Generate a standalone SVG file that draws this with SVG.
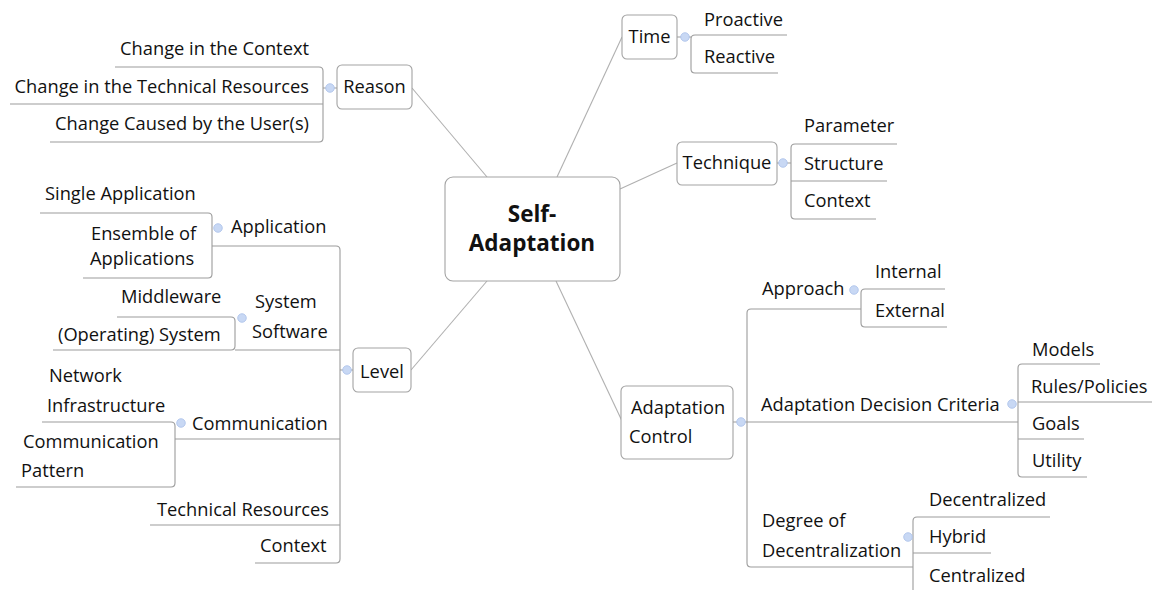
<svg xmlns="http://www.w3.org/2000/svg" width="1152" height="590" viewBox="0 0 1152 590">
<style>
.ln{fill:none;stroke:#9c9c9c;stroke-width:1.1}
.cn{fill:none;stroke:#b0b0b0;stroke-width:1.1}
.box{fill:#fff;stroke:#a3a3a3;stroke-width:1.1}
.t{font-family:"Open Sans","Noto Sans",sans-serif;font-size:18.3px;fill:#111}
.m{text-anchor:middle}
.e{text-anchor:end}
.b{font-family:"Open Sans","Noto Sans",sans-serif;font-size:22.5px;font-weight:bold;fill:#111;text-anchor:middle}
.dot{fill:#c8d8f4;stroke:#a9c0ea;stroke-width:0.8}
</style>
<rect width="1152" height="590" fill="#fff"/>
<g id="connectors">
<path class="cn" d="M412,88 L487,177"/>
<path class="cn" d="M557,177 L622,37"/>
<path class="cn" d="M620,189 L677,163"/>
<path class="cn" d="M556,281 L622,421"/>
<path class="cn" d="M487,281 L411,370"/>
<path class="ln" d="M115,67 H319 Q323,67 323,71 V138 Q323,142 319,142 H50 M10,104 H323 M323,88 H337"/>
<path class="ln" d="M677,37 H691 M787,35 H695 Q691,35 691,39 V69 Q691,73 695,73 H778"/>
<path class="ln" d="M777,163 H791 M897,144 H795 Q791,144 791,148 V215 Q791,219 795,219 H876 M791,181 H887"/>
<path class="ln" d="M733,422 H1018 M861,309 H751 Q747,309 747,313 V563 Q747,567 751,567 H913"/>
<path class="ln" d="M945,289 H865 Q861,289 861,293 V323 Q861,327 865,327 H947"/>
<path class="ln" d="M1100,364 H1022 Q1018,364 1018,368 V473 Q1018,477 1022,477 H1087 M1018,402 H1152 M1018,439 H1084"/>
<path class="ln" d="M1050,517 H917 Q913,517 913,521 V590 M913,553 H991"/>
<path class="ln" d="M340,370 H353 M212,246 H336 Q340,246 340,250 V559 Q340,563 336,563 H255 M235,350 H340 M175,439 H340 M150,525 H340"/>
<path class="ln" d="M40,213 H208 Q212,213 212,217 V274 Q212,278 208,278 H83"/>
<path class="ln" d="M117,317 H231 Q235,317 235,321 V346 Q235,350 231,350 H53"/>
<path class="ln" d="M42,422 H171 Q175,422 175,426 V483 Q175,487 171,487 H16"/>
</g>
<g id="center">
<rect class="box" x="445" y="177" width="175" height="104" rx="8"/>
<text class="b" x="532" y="222">Self-</text>
<text class="b" x="532" y="251">Adaptation</text>
</g>
<g id="reason">
<rect class="box" x="337" y="65" width="75" height="44" rx="5"/>
<text class="t m" x="374.5" y="93">Reason</text>
<circle class="dot" cx="330" cy="88" r="4.3"/>
</g>
<g id="reason-children">
<text class="t e" x="309" y="55">Change in the Context</text>
<text class="t e" x="309" y="93">Change in the Technical Resources</text>
<text class="t e" x="309" y="130">Change Caused by the User(s)</text>
</g>
<g id="time">
<rect class="box" x="622" y="15" width="55" height="44" rx="5"/>
<text class="t m" x="649.5" y="43">Time</text>
<circle class="dot" cx="685" cy="37" r="4.3"/>
</g>
<g id="time-children">
<text class="t" x="704" y="26">Proactive</text>
<text class="t" x="704" y="63">Reactive</text>
</g>
<g id="technique">
<rect class="box" x="677" y="142" width="100" height="43" rx="5"/>
<text class="t m" x="727" y="169">Technique</text>
<circle class="dot" cx="783" cy="163" r="4.3"/>
</g>
<g id="technique-children">
<text class="t" x="804" y="132">Parameter</text>
<text class="t" x="804" y="170">Structure</text>
<text class="t" x="804" y="207">Context</text>
</g>
<g id="adaptation-control">
<rect class="box" x="621" y="386" width="112" height="73" rx="5"/>
<text class="t" x="631" y="414">Adaptation</text>
<text class="t" x="629" y="443">Control</text>
<circle class="dot" cx="741" cy="422" r="4.3"/>
</g>
<g id="approach">
<text class="t" x="762" y="295">Approach</text>
<circle class="dot" cx="854" cy="290" r="4.3"/>
<text class="t" x="875" y="278">Internal</text>
<text class="t" x="875" y="317">External</text>
</g>
<g id="decision-criteria">
<text class="t" x="761" y="411">Adaptation Decision Criteria</text>
<circle class="dot" cx="1012" cy="404" r="4.3"/>
<text class="t" x="1032" y="356">Models</text>
<text class="t" x="1031" y="393">Rules/Policies</text>
<text class="t" x="1032" y="430">Goals</text>
<text class="t" x="1032" y="467">Utility</text>
</g>
<g id="decentralization">
<text class="t" x="762" y="527">Degree of</text>
<text class="t" x="762" y="557">Decentralization</text>
<circle class="dot" cx="908" cy="537" r="4.3"/>
<text class="t" x="929" y="506">Decentralized</text>
<text class="t" x="929" y="543">Hybrid</text>
<text class="t" x="929" y="582">Centralized</text>
</g>
<g id="level">
<rect class="box" x="353" y="348" width="58" height="44" rx="5"/>
<text class="t m" x="382" y="378">Level</text>
<circle class="dot" cx="347" cy="370" r="4.3"/>
</g>
<g id="application">
<text class="t" x="231" y="233">Application</text>
<circle class="dot" cx="218" cy="228" r="4.3"/>
<text class="t" x="45" y="200">Single Application</text>
<text class="t" x="91" y="240">Ensemble of</text>
<text class="t" x="90" y="265">Applications</text>
</g>
<g id="system-software">
<text class="t" x="255" y="308">System</text>
<text class="t" x="252" y="338">Software</text>
<circle class="dot" cx="242" cy="318" r="4.3"/>
<text class="t" x="121" y="303">Middleware</text>
<text class="t" x="58" y="341">(Operating) System</text>
</g>
<g id="communication">
<text class="t" x="192" y="430">Communication</text>
<circle class="dot" cx="181" cy="423" r="4.3"/>
<text class="t" x="49" y="382">Network</text>
<text class="t" x="47" y="412">Infrastructure</text>
<text class="t" x="23" y="448">Communication</text>
<text class="t" x="21" y="477">Pattern</text>
</g>
<g id="level-leaves">
<text class="t" x="157" y="516">Technical Resources</text>
<text class="t" x="260" y="552">Context</text>
</g>
</svg>
